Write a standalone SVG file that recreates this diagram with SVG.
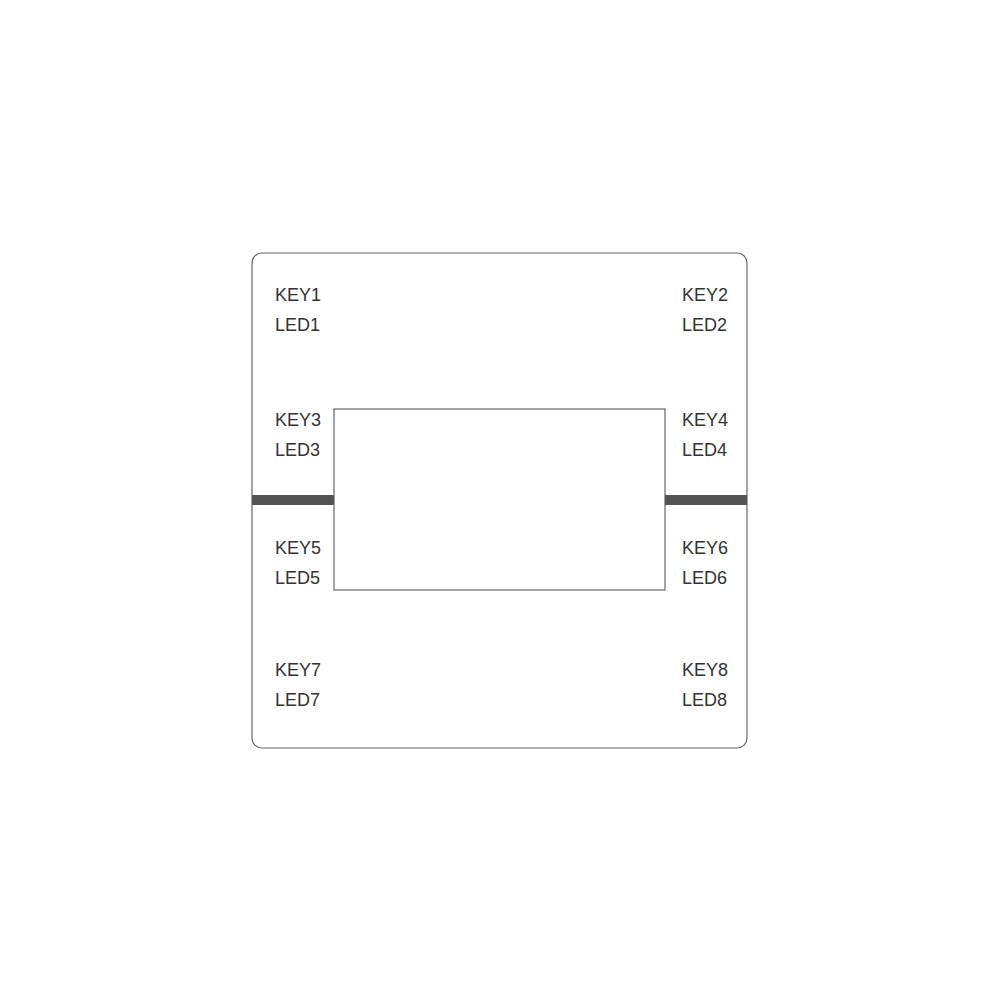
<svg xmlns="http://www.w3.org/2000/svg" width="1000" height="1000" viewBox="0 0 1000 1000">
<style>
.t{font-family:"Liberation Sans","DejaVu Sans",sans-serif;font-size:18px;fill:#333;}
.box{fill:#fff;stroke:#666;stroke-width:1.2;}
.bar{fill:#555;}
</style>
<rect width="1000" height="1000" fill="#fff"/>
<g id="panel"><rect class="box" x="252" y="253" width="495" height="495" rx="10"/></g>
<g id="display"><rect class="box" x="334" y="409" width="331" height="181"/></g>
<g id="connectors">
<rect class="bar" x="252" y="495" width="82" height="10"/>
<rect class="bar" x="665" y="495" width="82" height="10"/>
</g>
<g id="k1"><text class="t" x="275" y="301">KEY1</text><text class="t" x="275" y="331">LED1</text></g>
<g id="k2"><text class="t" x="682" y="301">KEY2</text><text class="t" x="682" y="331">LED2</text></g>
<g id="k3"><text class="t" x="275" y="426">KEY3</text><text class="t" x="275" y="456">LED3</text></g>
<g id="k4"><text class="t" x="682" y="426">KEY4</text><text class="t" x="682" y="456">LED4</text></g>
<g id="k5"><text class="t" x="275" y="554">KEY5</text><text class="t" x="275" y="584">LED5</text></g>
<g id="k6"><text class="t" x="682" y="554">KEY6</text><text class="t" x="682" y="584">LED6</text></g>
<g id="k7"><text class="t" x="275" y="676">KEY7</text><text class="t" x="275" y="706">LED7</text></g>
<g id="k8"><text class="t" x="682" y="676">KEY8</text><text class="t" x="682" y="706">LED8</text></g>
</svg>
